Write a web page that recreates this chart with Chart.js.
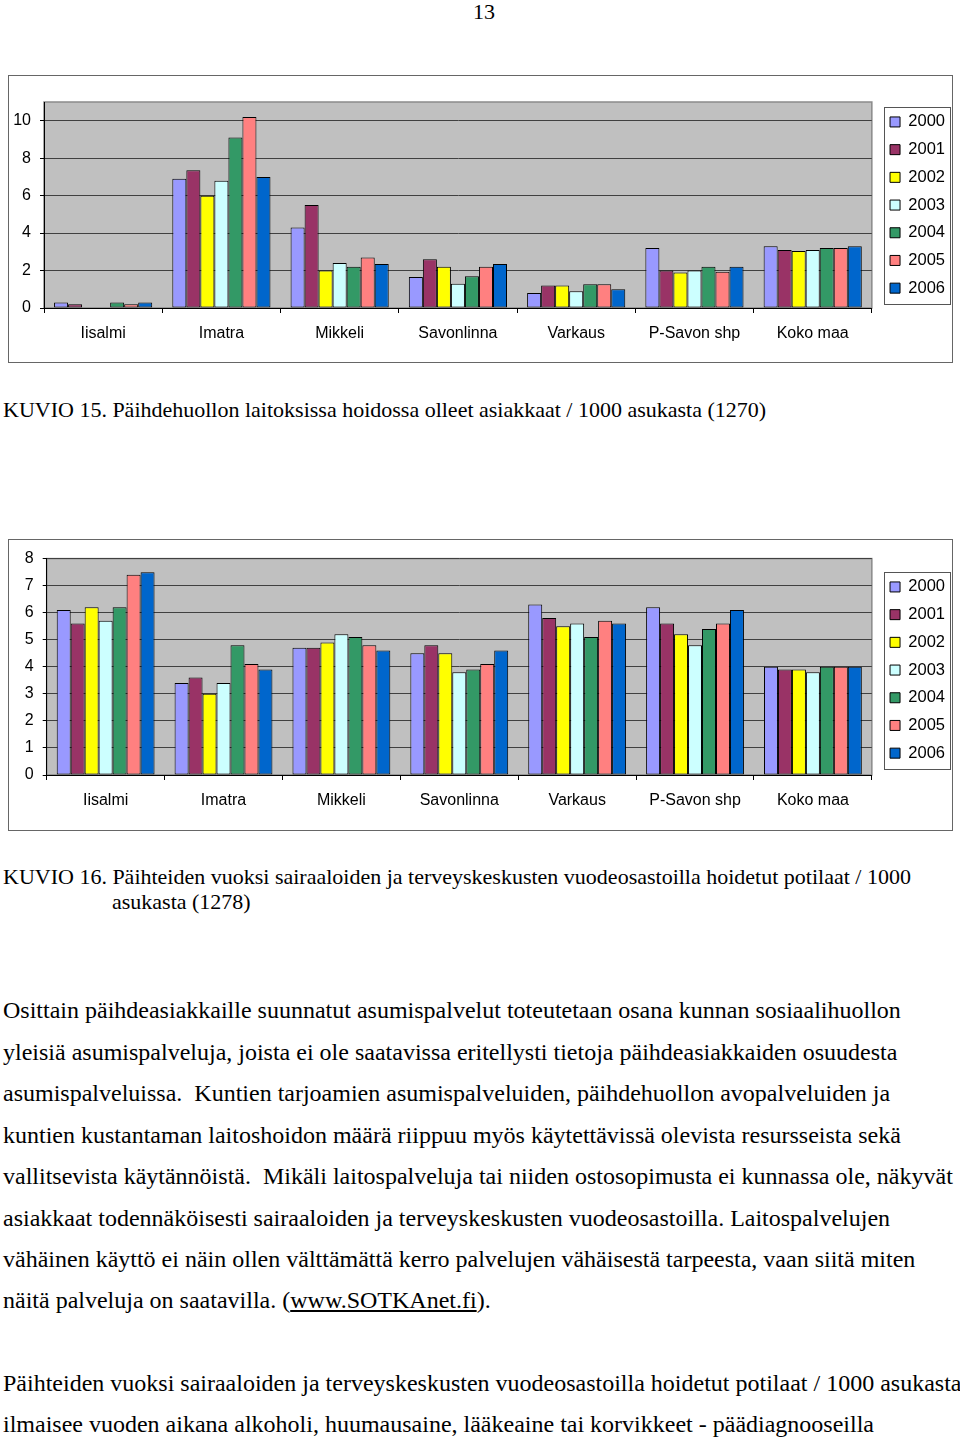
<!DOCTYPE html>
<html>
<head>
<meta charset="utf-8">
<title>KUVIO 15 ja 16</title>
<script src="https://cdn.jsdelivr.net/npm/chart.js@4.4.1/dist/chart.umd.min.js"></script>
<style>
    body {
        margin: 0;
        width: 960px;
        height: 1440px;
        position: relative;
        overflow: hidden;
        background: #fff;
        color: #000;
        font-family: "Liberation Serif", "Times New Roman", serif;
    }
    .line {
        position: absolute;
        left: 3px;
        white-space: pre;
        font-size: 24px;
        line-height: 27px;
    }
    .caption {
        font-size: 22px;
        line-height: 24px;
    }
    .frame {
        position: absolute;
        border: 1px solid #666;
        box-sizing: border-box;
    }
    .chart-wrap {
        position: absolute;
    }
    a { color: #000; }
</style>
</head>
<body>

<div class="line caption" style="left:4px; width:960px; text-align:center; top:0;">13</div>

<div class="frame" style="left:8px; top:75px; width:945px; height:288px;"></div>
<div class="chart-wrap" style="left:9px; top:76px; width:946px; height:285px;">
    <canvas id="chart15"></canvas>
</div>

<div class="line caption" style="top:398px;">KUVIO 15. Päihdehuollon laitoksissa hoidossa olleet asiakkaat / 1000 asukasta (1270)</div>

<div class="frame" style="left:8px; top:539px; width:945px; height:292px;"></div>
<div class="chart-wrap" style="left:9px; top:540px; width:946px; height:289px;">
    <canvas id="chart16"></canvas>
</div>

<div class="line caption" style="top:865px;">KUVIO 16. Päihteiden vuoksi sairaaloiden ja terveyskeskusten vuodeosastoilla hoidetut potilaat / 1000</div>
<div class="line caption" style="top:890px; left:112px;">asukasta (1278)</div>

<div class="line" style="top:997px;">Osittain päihdeasiakkaille suunnatut asumispalvelut toteutetaan osana kunnan sosiaalihuollon</div>
<div class="line" style="top:1039px;">yleisiä asumispalveluja, joista ei ole saatavissa eritellysti tietoja päihdeasiakkaiden osuudesta</div>
<div class="line" style="top:1080px;">asumispalveluissa.  Kuntien tarjoamien asumispalveluiden, päihdehuollon avopalveluiden ja</div>
<div class="line" style="top:1122px;">kuntien kustantaman laitoshoidon määrä riippuu myös käytettävissä olevista resursseista sekä</div>
<div class="line" style="top:1163px;">vallitsevista käytännöistä.  Mikäli laitospalveluja tai niiden ostosopimusta ei kunnassa ole, näkyvät</div>
<div class="line" style="top:1205px;">asiakkaat todennäköisesti sairaaloiden ja terveyskeskusten vuodeosastoilla. Laitospalvelujen</div>
<div class="line" style="top:1246px;">vähäinen käyttö ei näin ollen välttämättä kerro palvelujen vähäisestä tarpeesta, vaan siitä miten</div>
<div class="line" style="top:1287px;">näitä palveluja on saatavilla. (<a href="#">www.SOTKAnet.fi</a>).</div>

<div class="line" style="top:1370px;">Päihteiden vuoksi sairaaloiden ja terveyskeskusten vuodeosastoilla hoidetut potilaat / 1000 asukasta</div>
<div class="line" style="top:1411px;">ilmaisee vuoden aikana alkoholi, huumausaine, lääkeaine tai korvikkeet - päädiagnooseilla</div>

<script>
const FONT = '"Liberation Sans", Arial, sans-serif';

const paikkakunnat = ['Iisalmi', 'Imatra', 'Mikkeli', 'Savonlinna', 'Varkaus', 'P-Savon shp', 'Koko maa'];
const vuodet = ['2000', '2001', '2002', '2003', '2004', '2005', '2006'];
const vuosiVarit = ['#9999ff', '#993366', '#ffff00', '#ccffff', '#339966', '#ff8080', '#0066cc'];

// KUVIO 15 - laitoksissa hoidossa olleet asiakkaat / 1000 asukasta
const k15_2000 = [0.3, 6.9, 4.3, 1.65, 0.8, 3.2, 3.3];
const k15_2001 = [0.2, 7.35, 5.5, 2.6, 1.2, 2.0, 3.1];
const k15_2002 = [null, 6.0, 2.0, 2.2, 1.2, 1.9, 3.05];
const k15_2003 = [null, 6.8, 2.4, 1.3, 0.9, 2.0, 3.1];
const k15_2004 = [0.3, 9.1, 2.2, 1.7, 1.27, 2.2, 3.2];
const k15_2005 = [0.2, 10.2, 2.7, 2.2, 1.27, 1.93, 3.2];
const k15_2006 = [0.3, 7.0, 2.35, 2.35, 1.0, 2.2, 3.3];

// KUVIO 16 - sairaaloiden ja tk:iden vuodeosastoilla hoidetut potilaat / 1000 asukasta
const k16_2000 = [6.1, 3.4, 4.7, 4.5, 6.3, 6.2, 4.0];
const k16_2001 = [5.6, 3.6, 4.7, 4.8, 5.8, 5.6, 3.9];
const k16_2002 = [6.2, 3.0, 4.9, 4.5, 5.5, 5.2, 3.9];
const k16_2003 = [5.7, 3.4, 5.2, 3.8, 5.6, 4.8, 3.8];
const k16_2004 = [6.2, 4.8, 5.1, 3.9, 5.1, 5.4, 4.0];
const k16_2005 = [7.4, 4.1, 4.8, 4.1, 5.7, 5.6, 4.0];
const k16_2006 = [7.5, 3.9, 4.6, 4.6, 5.6, 6.1, 4.0];

// y-akselit
const k15Max = 11;
const k15Step = 2;
const k16Max = 8;
const k16Step = 1;

// harmaa piirtoalue + legendan kehys
const kehysPlugin = {
    id: 'kehys',
    afterLayout(chart, args, opts) {
        // legenda alas tarvittaessa
        const dy = opts.legendDy || 0;
        if (chart.legend && dy) {
            chart.legend.top += dy;
            chart.legend.bottom += dy;
        }
    },
    beforeDraw(chart) {
        const a = chart.chartArea;
        const ctx = chart.ctx;
        ctx.save();
        ctx.fillStyle = '#c0c0c0';
        ctx.fillRect(a.left, a.top, a.right - a.left, a.bottom - a.top);
        ctx.strokeStyle = '#8a8a8a';
        ctx.lineWidth = 1.5;
        ctx.strokeRect(a.left, a.top, a.right - a.left, a.bottom - a.top);
        ctx.restore();
    },
    afterDraw(chart) {
        const boxes = chart.legend && chart.legend.legendHitBoxes;
        if (!boxes || boxes.length === 0) return;
        let x0 = Infinity, y0 = Infinity, x1 = -Infinity, y1 = -Infinity;
        boxes.forEach(b => {
            x0 = Math.min(x0, b.left);
            y0 = Math.min(y0, b.top);
            x1 = Math.max(x1, b.left + b.width);
            y1 = Math.max(y1, b.top + b.height);
        });
        const ctx = chart.ctx;
        ctx.save();
        ctx.strokeStyle = '#555';
        ctx.lineWidth = 1;
        ctx.strokeRect(Math.round(x0 - 6) + 0.5, Math.round(y0 - 7) + 0.5,
            Math.round(x1 - x0 + 11), Math.round(y1 - y0 + 14));
        ctx.restore();
    }
};

function teeDatasetit(sarjat) {
    return sarjat.map((arvot, i) => ({
        label: vuodet[i],
        data: arvot,
        backgroundColor: vuosiVarit[i],
        borderColor: '#000',
        borderWidth: 1,
        borderSkipped: false,
        categoryPercentage: 0.83,
        barPercentage: 1.0
    }));
}

function teeKaavio(id, sarjat, yMax, yStep, padTop, yLeveys, xKorkeus, legendDy) {
    return new Chart(document.getElementById(id).getContext('2d'), {
        type: 'bar',
        data: {
            labels: paikkakunnat,
            datasets: teeDatasetit(sarjat)
        },
        options: {
            responsive: true,
            maintainAspectRatio: false,
            animation: false,
            devicePixelRatio: 1,
            layout: {
                padding: { top: padTop, left: 0, right: 0, bottom: 0 }
            },
            plugins: {
                tooltip: { enabled: false },
                kehys: { legendDy: legendDy },
                legend: {
                    display: true,
                    position: 'right',
                    align: 'start',
                    labels: {
                        color: '#000',
                        font: { family: FONT, size: 16.5 },
                        boxWidth: 10,
                        boxHeight: 10,
                        padding: 11.2
                    }
                }
            },
            scales: {
                x: {
                    grid: {
                        offset: true,
                        drawOnChartArea: false,
                        drawTicks: true,
                        tickLength: 5,
                        color: '#000',
                        tickColor: '#000'
                    },
                    border: { color: '#000', width: 1 },
                    ticks: {
                        color: '#000',
                        font: { family: FONT, size: 16 },
                        padding: 11,
                        maxRotation: 0,
                        autoSkip: false
                    },
                    afterFit: s => { s.height = xKorkeus; }
                },
                y: {
                    min: 0,
                    max: yMax,
                    grid: {
                        color: '#404040',
                        lineWidth: 1,
                        drawTicks: true,
                        tickLength: 4,
                        tickColor: '#000'
                    },
                    border: { color: '#000', width: 1 },
                    ticks: {
                        stepSize: yStep,
                        color: '#000',
                        font: { family: FONT, size: 16 },
                        padding: 9
                    },
                    afterBuildTicks: s => {
                        s.ticks = s.ticks.filter(t => t.value % yStep === 0);
                    },
                    afterFit: s => { s.width = yLeveys; }
                },
                rako: {
                    type: 'linear',
                    position: 'right',
                    display: true,
                    grid: { display: false },
                    border: { display: false },
                    ticks: { display: false },
                    afterFit: s => { s.width = 7; }
                }
            }
        },
        plugins: [kehysPlugin]
    });
}

const chart15 = teeKaavio('chart15',
    [k15_2000, k15_2001, k15_2002, k15_2003, k15_2004, k15_2005, k15_2006],
    k15Max, k15Step, 26, 35, 53, 0.5);

const chart16 = teeKaavio('chart16',
    [k16_2000, k16_2001, k16_2002, k16_2003, k16_2004, k16_2005, k16_2006],
    k16Max, k16Step, 18, 37.7, 54, 9.5);
</script>
</body>
</html>
